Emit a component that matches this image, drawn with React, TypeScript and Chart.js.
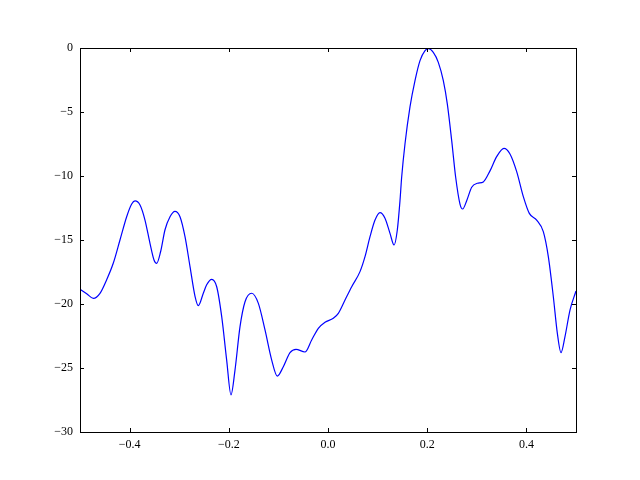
import React, { useEffect, useRef } from "react";
import { Chart, registerables } from "chart.js";

Chart.register(...registerables);

const xValues = [
  -0.5, -0.4865, -0.473, -0.4597, -0.4462, -0.4328, -0.4194, -0.4059, -0.3958, -0.3891,
  -0.379, -0.369, -0.3589, -0.3508, -0.3454, -0.3374, -0.3286, -0.3185, -0.3085, -0.2984,
  -0.2883, -0.2782, -0.2681, -0.2615, -0.2514, -0.2446, -0.2345, -0.2244, -0.2143, -0.2043,
  -0.1956, -0.1875, -0.1774, -0.1673, -0.1538, -0.1404, -0.127, -0.1135, -0.1022, -0.0901,
  -0.0766, -0.0645, -0.0464, -0.0329, -0.0195, -0.006, 0.0107, 0.0208, 0.0343, 0.0478,
  0.0645, 0.0746, 0.0847, 0.0948, 0.1048, 0.1149, 0.125, 0.1331, 0.1398, 0.1452,
  0.1485, 0.1552, 0.1653, 0.1754, 0.1855, 0.1956, 0.2022, 0.2123, 0.2224, 0.2325,
  0.2406, 0.2494, 0.2574, 0.2661, 0.2715, 0.2796, 0.2897, 0.3011, 0.3131, 0.3266,
  0.34, 0.3548, 0.3669, 0.3804, 0.3938, 0.4059, 0.4207, 0.4341, 0.4442, 0.4543,
  0.4624, 0.4698, 0.4778, 0.4879, 0.5,
];
const yValues = [
  -18.85, -19.2, -19.56, -19.17, -18.1, -16.8, -15.0, -13.18, -12.19, -11.95,
  -12.27, -13.44, -15.26, -16.56, -16.82, -15.9, -14.2, -13.18, -12.76, -13.18,
  -14.74, -17.08, -19.4, -20.13, -19.16, -18.5, -18.07, -18.65, -20.99, -24.38,
  -27.1, -25.16, -21.77, -19.82, -19.16, -19.95, -22.03, -24.38, -25.63, -24.9,
  -23.8, -23.54, -23.75, -22.81, -21.9, -21.42, -21.12, -20.73, -19.69, -18.65,
  -17.47, -16.3, -14.74, -13.44, -12.86, -13.3, -14.48, -15.39, -14.2, -11.9,
  -10.1, -7.5, -4.6, -2.55, -0.99, -0.21, -0.05, -0.34, -1.12, -2.55,
  -4.38, -7.24, -10.1, -12.19, -12.58, -11.93, -10.88, -10.57, -10.46, -9.6,
  -8.49, -7.84, -8.28, -9.66, -11.61, -12.92, -13.44, -14.35, -16.3, -19.43,
  -22.29, -23.8, -22.55, -20.47, -18.98,
];
const xTicks = [-0.4, -0.2, 0.0, 0.2, 0.4];
const yTicks = [-30, -25, -20, -15, -10, -5, 0];

const fmt = (v: number, d: number) => v.toFixed(d).replace("-", "\u2212");

const framePlugin = {
  id: "frame",
  afterDraw(chart: any) {
    const { ctx, chartArea: a, scales } = chart;
    ctx.save();
    ctx.strokeStyle = "#000";
    ctx.lineWidth = 1;
    const L = 4;
    ctx.beginPath();
    for (const v of xTicks) {
      const px = Math.round(scales.x.getPixelForValue(v)) + 0.5;
      ctx.moveTo(px, a.bottom);
      ctx.lineTo(px, a.bottom - L);
      ctx.moveTo(px, a.top);
      ctx.lineTo(px, a.top + L);
    }
    for (const v of yTicks) {
      const py = Math.round(scales.y.getPixelForValue(v)) + 0.5;
      ctx.moveTo(a.left, py);
      ctx.lineTo(a.left + L, py);
      ctx.moveTo(a.right, py);
      ctx.lineTo(a.right - L, py);
    }
    ctx.stroke();
    ctx.strokeRect(Math.round(a.left) + 0.5, Math.round(a.top) + 0.5, Math.round(a.right - a.left), Math.round(a.bottom - a.top));
    ctx.restore();
  },
};

export default function App() {
  const ref = useRef<HTMLCanvasElement>(null);
  useEffect(() => {
    if (!ref.current) return;
    const font = { family: "'Liberation Serif', serif", size: 12 };
    const chart = new Chart(ref.current, {
      type: "scatter",
      data: {
        datasets: [
          {
            data: xValues.map((x, i) => ({ x, y: yValues[i] })),
            showLine: true,
            borderColor: "#0000ff",
            borderWidth: 1.2,
            pointRadius: 0,
            cubicInterpolationMode: "monotone",
            fill: false,
          },
        ],
      },
      options: {
        animation: false,
        responsive: false,
        events: [],
        layout: { padding: { left: 0, top: 48, right: 64, bottom: 0 } },
        plugins: { legend: { display: false }, tooltip: { enabled: false } },
        scales: {
          x: {
            type: "linear",
            min: -0.5,
            max: 0.5,
            afterBuildTicks: (s: any) => {
              s.ticks = xTicks.map((v) => ({ value: v }));
            },
            afterFit: (s: any) => {
              s.height = 48;
            },
            grid: { display: false, drawTicks: false },
            border: { display: false },
            ticks: {
              color: "#000",
              font,
              padding: 6,
              maxRotation: 0,
              autoSkip: false,
              callback: (v: any) => fmt(Number(v), 1),
            },
          },
          y: {
            type: "linear",
            min: -30,
            max: 0,
            afterBuildTicks: (s: any) => {
              s.ticks = yTicks.map((v) => ({ value: v }));
            },
            afterFit: (s: any) => {
              s.width = 80;
            },
            grid: { display: false, drawTicks: false },
            border: { display: false },
            ticks: {
              color: "#000",
              font,
              padding: 7,
              autoSkip: false,
              callback: (v: any) => fmt(Number(v), 0),
            },
          },
        },
      },
      plugins: [framePlugin],
    } as any);
    return () => chart.destroy();
  }, []);
  return (
    <div style={{ position: "fixed", left: 0, top: 0, width: 640, height: 480, background: "#fff" }}>
      <canvas ref={ref} width={640} height={480} style={{ width: 640, height: 480 }} />
    </div>
  );
}
